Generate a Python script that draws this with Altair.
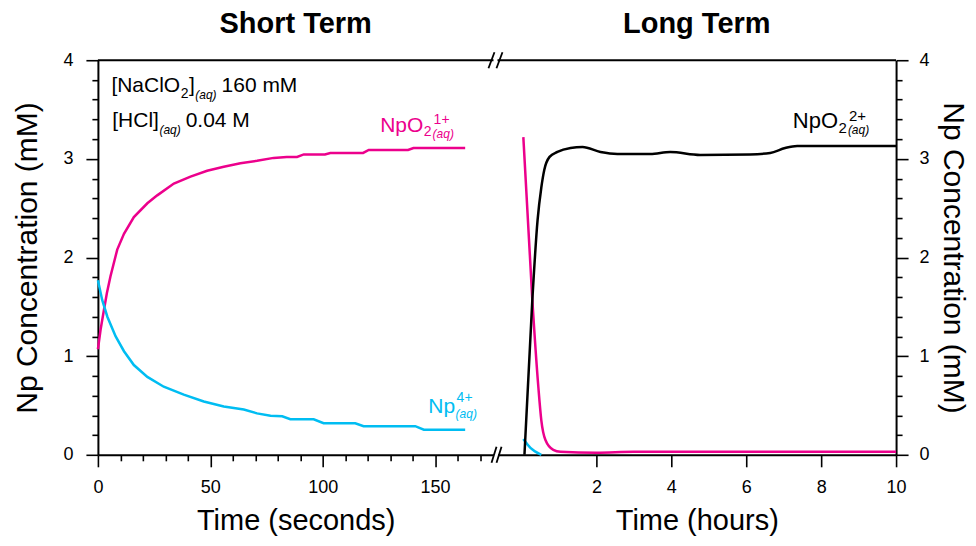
import altair as alt
import pandas as pd

# ---------------- data ----------------
# Short term (seconds)
st_np1_t = [0, 1.2, 2.7, 4.0, 5.6, 8.6, 11.6, 16, 22, 26.4, 33.8, 41.2, 48.6, 56, 63.4, 70.8, 78.2, 84,
            88.6, 91.6, 101, 103.4, 118, 120.5, 138, 140.4, 163.4]
st_np1_v = [1.07, 1.27, 1.47, 1.64, 1.81, 2.08, 2.24, 2.41, 2.55, 2.63, 2.75, 2.82, 2.88, 2.92, 2.955, 2.98,
            3.01, 3.02, 3.02, 3.045, 3.045, 3.06, 3.06, 3.09, 3.09, 3.11, 3.11]
st_np4_t = [0, 1.9, 4.2, 7.9, 11.6, 16, 22, 29.3, 38.2, 47.1, 56, 64.9, 70.8, 76.8, 82, 85.6, 96, 100.4,
            114.5, 118.2, 141.2, 145, 163.4]
st_np4_v = [1.77, 1.57, 1.40, 1.20, 1.05, 0.91, 0.79, 0.69, 0.61, 0.54, 0.49, 0.46, 0.42, 0.395, 0.39, 0.36,
            0.36, 0.32, 0.32, 0.29, 0.29, 0.255, 0.255]

# Long term (hours)
lt_np2_t = [0.08, 0.29, 0.43, 0.53, 0.61, 0.75, 0.96, 1.31, 1.63, 2.11, 2.56, 3.44, 3.97, 4.77, 6.1, 6.64,
            7.04, 7.36, 10]
lt_np2_v = [0, 1.57, 2.38, 2.71, 2.89, 3.02, 3.07, 3.11, 3.12, 3.07, 3.05, 3.05, 3.07, 3.04, 3.045, 3.06,
            3.11, 3.13, 3.13]
lt_np1_t = [0.05, 0.29, 0.45, 0.53, 0.64, 0.85, 1.04, 2.0, 3.0, 10]
lt_np1_v = [3.22, 1.57, 0.69, 0.35, 0.15, 0.05, 0.03, 0.02, 0.03, 0.03]
lt_np4_t = [0.05, 0.24, 0.53]
lt_np4_v = [0.16, 0.07, 0.0]

series = ["NpO2+", "Np4+", "NpO2 2+"]
colors = ["#ec008c", "#00bdf2", "#000000"]

st_x_ticks = list(range(0, 180, 10))
lt_x_ticks = [2, 4, 6, 8, 10]
y_ticks = [round(i * 0.2, 1) for i in range(21)]

FONT = "Liberation Sans"
W1, W2, H = 396, 399, 395

# Arial / Liberation Sans advance widths (per 1000 em), used to lay out sub/superscripts
CW = {" ": 278, "[": 278, "]": 278, "(": 333, ")": 333, "N": 722, "a": 556, "C": 722, "l": 222,
      "O": 778, "H": 722, "I": 278, "p": 556, "q": 556, ".": 278, "m": 833, "M": 833, "+": 584}


def tw(s, size):
    return sum(CW.get(c, 556) for c in s) * size / 1000.0


def frame(ts, vs, name):
    return pd.DataFrame({"t": ts, "v": vs, "s": name})


left_df = pd.concat([frame(st_np1_t, st_np1_v, series[0]), frame(st_np4_t, st_np4_v, series[1])])
right_df = pd.concat([frame(lt_np1_t, lt_np1_v, series[0]), frame(lt_np4_t, lt_np4_v, series[1]),
                      frame(lt_np2_t, lt_np2_v, series[2])])

color = alt.Color("s:N", scale=alt.Scale(domain=series, range=colors), legend=None)

common_axis = dict(grid=False, domainColor="black", tickColor="black", domainWidth=2, tickWidth=1.6,
                   labelColor="black", titleColor="black", labelFont=FONT, titleFont=FONT,
                   labelFontSize=18, titleFontWeight="normal", labelOverlap=False,
                   labelFlush=False)


def y_axis(orient):
    left_side = orient == "left"
    return alt.Axis(orient=orient, values=y_ticks, tickCount=len(y_ticks) + 5, title="Np Concentration (mM)",
                    labelExpr="datum.value % 1 === 0 ? format(datum.value, 'd') : ''",
                    tickSize={"condition": {"test": "datum.value % 1 === 0", "value": 12}, "value": 6},
                    labelPadding=13 if left_side else 11, titlePadding=20 if left_side else 8,
                    titleFontSize=30, titleAngle=-90 if left_side else 90, **common_axis)


x_left_axis = alt.Axis(values=st_x_ticks, tickCount=len(st_x_ticks) + 5, title="Time (seconds)",
                       labelExpr="datum.value % 50 === 0 ? format(datum.value, 'd') : ''",
                       tickSize={"condition": {"test": "datum.value % 50 === 0", "value": 12}, "value": 6},
                       labelPadding=12, titlePadding=10, titleFontSize=29, **common_axis)
x_right_axis = alt.Axis(values=lt_x_ticks, tickCount=10, title="Time (hours)", format="d", tickSize=12,
                        labelPadding=12, titlePadding=10, titleFontSize=29, **common_axis)

left_lines = alt.Chart(left_df).mark_line(strokeWidth=2.5).encode(
    x=alt.X("t:Q", scale=alt.Scale(domain=[0, 176], nice=False, zero=False), axis=x_left_axis),
    y=alt.Y("v:Q", scale=alt.Scale(domain=[0, 4], nice=False), axis=y_axis("left")),
    color=color,
)
right_lines = alt.Chart(right_df).mark_line(strokeWidth=2.5, interpolate="monotone").encode(
    x=alt.X("t:Q", scale=alt.Scale(domain=[-0.64, 10], nice=False, zero=False), axis=x_right_axis),
    y=alt.Y("v:Q", scale=alt.Scale(domain=[0, 4], nice=False), axis=y_axis("right")),
    color=color,
)

one = pd.DataFrame({"a": [0]})


def top_rule(w):
    return alt.Chart(one).mark_rule(color="black", strokeWidth=2).encode(
        x=alt.value(0), x2=alt.value(w), y=alt.value(0))


def slash(xb, xt, yc):
    return alt.Chart(one).mark_rule(color="black", strokeWidth=1.8).encode(
        x=alt.value(xb), x2=alt.value(xt), y=alt.value(yc + 8), y2=alt.value(yc - 8))


breaks = [slash(W1 - 5, W1 + 1, 0), slash(W1 + 3, W1 + 9, 0),
          slash(W1 - 2, W1 + 3, H), slash(W1 + 3, W1 + 8, H)]


def text_layer(text, size, dx, dy, italic, x, y, col):
    return alt.Chart(one).mark_text(
        text=text, font=FONT, fontSize=size, color=col, align="left", baseline="alphabetic",
        dx=dx, dy=dy, fontStyle="italic" if italic else "normal").encode(x=alt.datum(x), y=alt.datum(y))


def formula(main, sub, sup, x, y, col, size, small=14, aq=12, sub_dy=5, sup_dy=-8, aq_dy=6):
    """main text, optional subscript digit, then stacked superscript charge / (aq) subscript."""
    layers = [text_layer(main, size, 0, 0, False, x, y, col)]
    pos = tw(main, size) + 0.5
    if sub:
        layers.append(text_layer(sub, small, pos, sub_dy, False, x, y, col))
        pos += tw(sub, small) + 1
    layers.append(text_layer(sup, small, pos + 1, sup_dy, False, x, y, col))
    layers.append(text_layer("(aq)", aq, pos, aq_dy, True, x, y, col))
    return layers


def conc_line(name, sub, value, x, y, size=21):
    layers = [text_layer(name, size, 0, 0, False, x, y, "black")]
    pos = tw(name, size) + 0.5
    if sub:
        layers.append(text_layer(sub, 14, pos, 6, False, x, y, "black"))
        pos += tw(sub, 14) + 0.5
        layers.append(text_layer("]", size, pos, 0, False, x, y, "black"))
        pos += tw("]", size) + 0.5
    layers.append(text_layer("(aq)", 12, pos, 7, True, x, y, "black"))
    pos += tw("(aq)", 12) + 5
    layers.append(text_layer(value, size, pos, 0, False, x, y, "black"))
    return layers


ann_left = []
ann_left += conc_line("[NaClO", "2", "160 mM", 6.0, 3.68)
ann_left += conc_line("[HCl]", "", "0.04 M", 6.4, 3.325)
ann_left += formula("NpO", "2", "1+", 125.6, 3.274, colors[0], 21, sub_dy=4, sup_dy=-8, aq_dy=6)
ann_left += formula("Np", "", "4+", 147, 0.425, colors[1], 21, sup_dy=-11, aq_dy=5)

ann_right = formula("NpO", "2", "2+", 7.245, 3.31, "black", 22, small=15, sub_dy=5, sup_dy=-7, aq_dy=6)

title_kw = dict(fontSize=29, fontWeight="bold", font=FONT, color="black", anchor="middle",
                frame="group", offset=12)

left = alt.layer(left_lines, top_rule(W1), *breaks, *ann_left).properties(
    width=W1, height=H, title=alt.Title("Short Term", **title_kw))
right = alt.layer(right_lines, top_rule(W2), *ann_right).properties(
    width=W2, height=H, title=alt.Title("Long Term", **title_kw))

chart = alt.hconcat(left, right, spacing=4, bounds="flush").configure_view(stroke=None).properties(
    padding={"left": 4, "top": 2, "right": 0, "bottom": 0}, background="white")

chart.save("out.html", embed_options={"renderer": "svg", "actions": False})
